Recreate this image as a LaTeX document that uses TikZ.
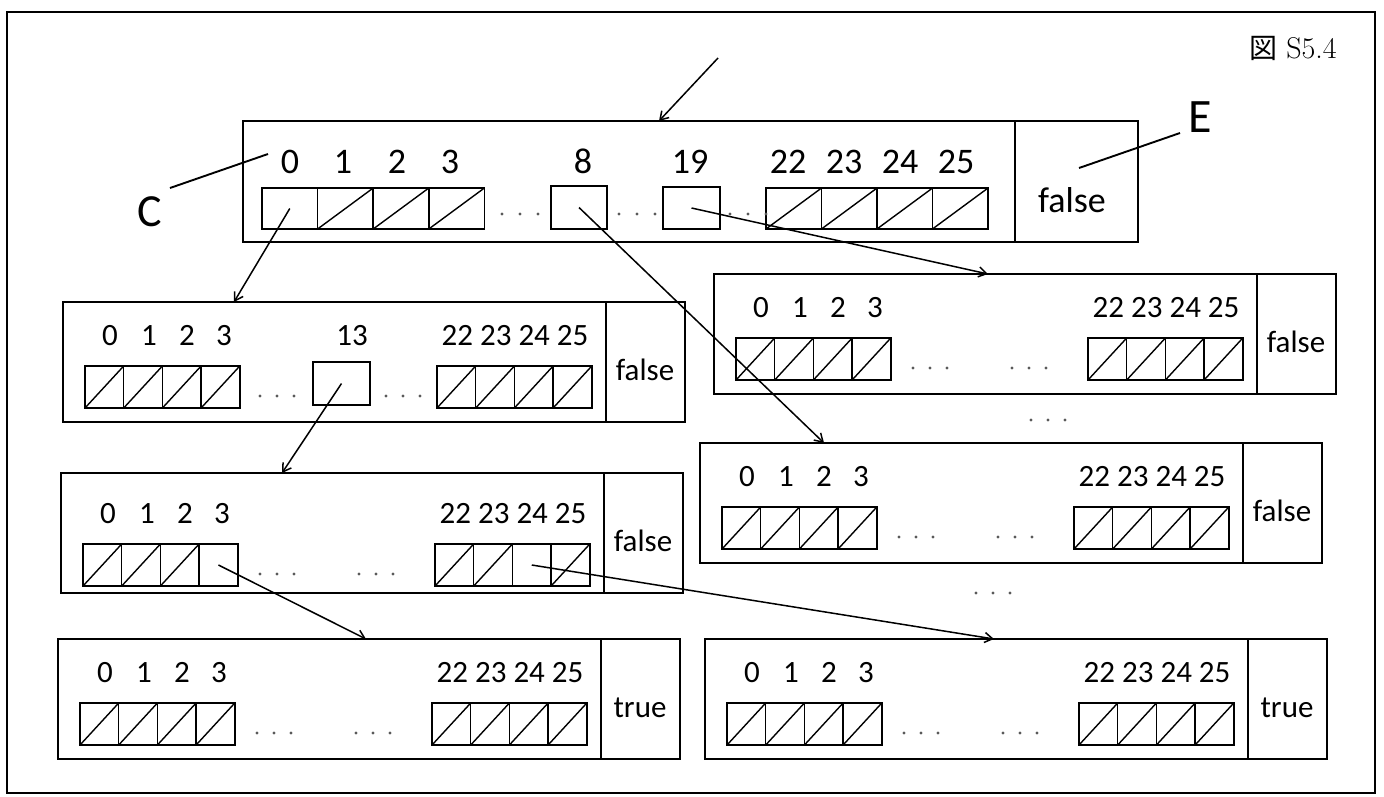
\documentclass[tikz,border=0pt]{standalone}
\usepackage{fontspec}
\newfontfamily\calfont{Carlito}
\newfontfamily\jpfont{Noto Sans CJK JP}
\usetikzlibrary{arrows.meta,calc}

\newcommand\lowbox[6]{% name, X, Y, dy, flag, dot offsets
  \node[box, anchor=north west] (#1) at (#2,#3) {};
  \draw[boxline] ($(#1.north west)+(543,0)$) -- ($(#1.south west)+(543,0)$);
  \node[lab] (#1-f) at ($(#1.north west)+(582,69)$) {#5};
  \foreach \d/\lx in {0/47,1/86,2/124,3/161}
    \node[lab] (#1-l\d) at ($(#1.north west)+(\lx,34+#4)$) {\d};
  \node[lab] (#1-lh) at ($(#1.north west)+(452,34+#4)$) {22 23 24 25};
  \foreach \i in {0,1,2,3}
    \node[cell] (#1-c\i) at ($(#1.north west)+(22+38.7*\i+19.35,85+#4)$) {};
  \foreach \i/\k in {0/22,1/23,2/24,3/25}
    \node[cell] (#1-c\k) at ($(#1.north west)+(374+38.7*\i+19.35,85+#4)$) {};
  \foreach \ox in {#6}{
    \foreach \dx in {-17,0,17}
      \fill[dotc] ($(#1.north west)+(\ox+\dx,94+#4)$) circle[radius=1.6pt];
  }
}
\newcommand\cellslashes[2]{%
  \foreach \k in {#2}
    \draw[slashline] (#1-c\k.south west) -- (#1-c\k.north east);
}

\begin{document}
\begin{tikzpicture}[x=1pt,y=-1pt,
  box/.style={draw, line width=1.8pt, minimum width=622pt, minimum height=120pt, inner sep=0pt, outer sep=0pt},
  boxline/.style={line width=1.8pt},
  cell/.style={draw, line width=1.5pt, minimum width=38.7pt, minimum height=42pt, inner sep=0pt, outer sep=0pt},
  bigcell/.style={cell, minimum width=55.6pt, minimum height=41pt},
  slashline/.style={line width=1.4pt},
  lab/.style={inner sep=0pt, text height=19.5pt, text depth=0pt, font=\calfont\fontsize{31}{36}\selectfont},
  flaglab/.style={inner sep=0pt, text height=22pt, text depth=0pt, font=\calfont\fontsize{31}{36}\selectfont},
  biglab/.style={inner sep=0pt, text height=22.7pt, text depth=0pt, font=\calfont\fontsize{36}{42}\selectfont},
  arr/.style={-{Straight Barb[length=8pt,width=10pt]}, line width=1.5pt},
  ptr/.style={line width=1.9pt},
  dotc/.style={fill=black!65},
]
\useasboundingbox (0,0) rectangle (1384,796);
\draw[line width=1.9pt] (7,12) rectangle (1375,793);

% figure label
\node[inner sep=0pt, font=\fontsize{30}{34}\selectfont] (fig) at (1293,48) {{\jpfont\fontsize{28}{34}\selectfont 図} S5.4};

% top box
\node[draw, line width=1.8pt, minimum width=895pt, minimum height=121pt, inner sep=0pt, outer sep=0pt, anchor=north west] (T) at (243,121) {};
\draw[boxline] ($(T.north west)+(772,0)$) -- ($(T.south west)+(772,0)$);
\node[biglab, text height=25pt] (T-f) at (1072,200) {false};
\foreach \i in {0,1,2,3}
  \node[bigcell] (T-c\i) at (262+55.6*\i+27.8,208.5) {};
\node[bigcell, minimum width=56pt, minimum height=43pt] (T-c8) at (579,207.5) {};
\node[bigcell, minimum width=57pt, minimum height=42pt] (T-c19) at (691.5,208) {};
\foreach \i/\k in {0/22,1/23,2/24,3/25}
  \node[bigcell] (T-c\k) at (766+55.5*\i+27.75,208.5) {};
\foreach \t/\lx in {0/290,1/343,2/397,3/450,8/583,19/690,22/788,23/844,24/900,25/956}
  \node[biglab] (T-l\t) at (\lx,162) {\t};
\cellslashes{T}{1,2,3,22,23,24,25}
\foreach \cx in {520,637,748}{
  \foreach \dx in {-18,0,18}
    \fill[dotc] (\cx+\dx,214) circle[radius=1.6pt];
}

% C and E labels
\node[inner sep=0pt, font=\calfont\fontsize{46}{50}\selectfont] (C) at (150,212) {C};
\coordinate (Cs) at (170,188);
\coordinate (Ce) at (268,154);
\draw[ptr] (Cs) -- (Ce);
\node[inner sep=0pt, font=\calfont\fontsize{48}{52}\selectfont] (E) at (1200,117) {E};
\coordinate (Es) at (1180,133);
\coordinate (Ee) at (1079,168);
\draw[ptr] (Es) -- (Ee);

% lower boxes
\tikzset{lab/.append style={}}
\lowbox{L1}{63}{302}{0}{false}{214,340}
\node[cell, minimum width=57pt, minimum height=43pt] (L1-c13) at ($(L1.north west)+(278.5,81.5)$) {};
\node[lab] (L1-l13) at ($(L1.north west)+(289,34)$) {13};
\cellslashes{L1}{0,1,2,3,22,23,24,25}

\lowbox{L2}{61}{473}{7}{false}{216,315}
\cellslashes{L2}{0,1,2,22,23,25}

\lowbox{L3}{58}{639}{0}{true}{216,315}
\cellslashes{L3}{0,1,2,3,22,23,24,25}

\lowbox{R1}{714}{274}{0}{false}{216,315}
\cellslashes{R1}{0,1,2,3,22,23,24,25}

\lowbox{R2}{700}{443}{0}{false}{216,315}
\cellslashes{R2}{0,1,2,3,22,23,24,25}

\lowbox{R3}{705}{639}{0}{true}{216,315}
\cellslashes{R3}{0,1,2,3,22,23,24,25}

% dots between right boxes
\foreach \cx/\cy in {1048/420,993/593}{
  \foreach \dx in {-17,0,17}
    \fill[dotc] (\cx+\dx,\cy) circle[radius=1.6pt];
}

% arrows
\coordinate (Tin) at (718,58);
\draw[arr] (Tin) -- ($(T.north west)+(416,0)$);
\draw[arr] (T-c0.center) -- ($(L1.north west)+(171,0)$);
\draw[arr] (T-c8.center) -- ($(R2.north west)+(124,0)$);
\draw[arr] (T-c19.center) -- ($(R1.north west)+(274,0)$);
\draw[arr] (L1-c13.center) -- ($(L2.north west)+(221,0)$);
\draw[arr] (L2-c3.center) -- ($(L3.north west)+(308,0)$);
\draw[arr] (L2-c24.center) -- ($(R3.north west)+(289,0)$);
\end{tikzpicture}
\end{document}
